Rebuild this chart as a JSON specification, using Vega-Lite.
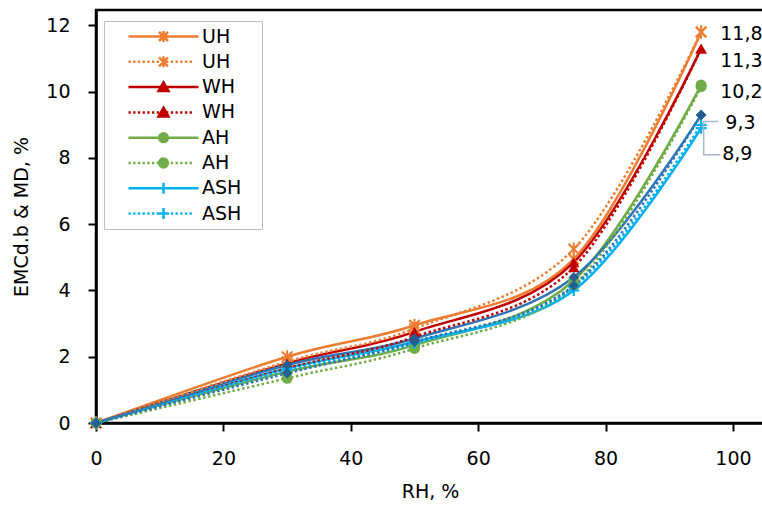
{
  "$schema": "https://vega.github.io/schema/vega-lite/v6.json",
  "width": 668,
  "height": 413,
  "autosize": {"type": "none"},
  "padding": {"left": 96, "top": 10, "right": 0, "bottom": 84},
  "background": "white",
  "datasets": {
    "emc": [
      {"series": "UH solid", "RH": 0, "v": 0}, {"series": "UH solid", "RH": 30, "v": 2.0}, {"series": "UH solid", "RH": 50, "v": 2.95}, {"series": "UH solid", "RH": 75, "v": 4.95}, {"series": "UH solid", "RH": 95, "v": 11.8},
      {"series": "UH dotted", "RH": 0, "v": 0}, {"series": "UH dotted", "RH": 30, "v": 1.85}, {"series": "UH dotted", "RH": 50, "v": 2.85}, {"series": "UH dotted", "RH": 75, "v": 5.25}, {"series": "UH dotted", "RH": 95, "v": 11.8},
      {"series": "WH solid", "RH": 0, "v": 0}, {"series": "WH solid", "RH": 30, "v": 1.8}, {"series": "WH solid", "RH": 50, "v": 2.75}, {"series": "WH solid", "RH": 75, "v": 4.85}, {"series": "WH solid", "RH": 95, "v": 11.3},
      {"series": "WH dotted", "RH": 0, "v": 0}, {"series": "WH dotted", "RH": 30, "v": 1.65}, {"series": "WH dotted", "RH": 50, "v": 2.6}, {"series": "WH dotted", "RH": 75, "v": 4.7}, {"series": "WH dotted", "RH": 95, "v": 11.3},
      {"series": "AH solid", "RH": 0, "v": 0}, {"series": "AH solid", "RH": 30, "v": 1.55}, {"series": "AH solid", "RH": 50, "v": 2.35}, {"series": "AH solid", "RH": 75, "v": 4.3}, {"series": "AH solid", "RH": 95, "v": 10.2},
      {"series": "AH dotted", "RH": 0, "v": 0}, {"series": "AH dotted", "RH": 30, "v": 1.35}, {"series": "AH dotted", "RH": 50, "v": 2.25}, {"series": "AH dotted", "RH": 75, "v": 4.15}, {"series": "AH dotted", "RH": 95, "v": 10.15},
      {"series": "ASH solid", "RH": 0, "v": 0}, {"series": "ASH solid", "RH": 30, "v": 1.65}, {"series": "ASH solid", "RH": 50, "v": 2.45}, {"series": "ASH solid", "RH": 75, "v": 4.0}, {"series": "ASH solid", "RH": 95, "v": 8.9},
      {"series": "ASH dotted", "RH": 0, "v": 0}, {"series": "ASH dotted", "RH": 30, "v": 1.6}, {"series": "ASH dotted", "RH": 50, "v": 2.4}, {"series": "ASH dotted", "RH": 75, "v": 4.1}, {"series": "ASH dotted", "RH": 95, "v": 9.0},
      {"series": "D solid", "RH": 0, "v": 0}, {"series": "D solid", "RH": 30, "v": 1.75}, {"series": "D solid", "RH": 50, "v": 2.55}, {"series": "D solid", "RH": 75, "v": 4.4}, {"series": "D solid", "RH": 95, "v": 9.3},
      {"series": "D dotted", "RH": 0, "v": 0}, {"series": "D dotted", "RH": 30, "v": 1.5}, {"series": "D dotted", "RH": 50, "v": 2.45}, {"series": "D dotted", "RH": 75, "v": 4.15}, {"series": "D dotted", "RH": 95, "v": 9.3}
    ],
    "labels": [
      {"label": "11,8", "x": 98.0, "y": 11.75},
      {"label": "11,3", "x": 98.0, "y": 10.93},
      {"label": "10,2", "x": 98.0, "y": 10.0},
      {"label": "9,3", "x": 98.8, "y": 9.06},
      {"label": "8,9", "x": 98.3, "y": 8.13}
    ],
    "leader": [
      {"o": 1, "x": 97.7, "y": 9.1},
      {"o": 2, "x": 95.4, "y": 9.1},
      {"o": 3, "x": 95.4, "y": 8.1},
      {"o": 4, "x": 98.0, "y": 8.1}
    ]
  },
  "layer": [
    {
      "data": {"name": "emc"},
      "transform": [{"filter": {"field": "series", "oneOf": ["UH solid", "WH solid", "AH solid", "ASH solid", "D solid"]}}],
      "mark": {"type": "line", "interpolate": "cardinal", "strokeWidth": 2.5},
      "encoding": {
        "x": {"field": "RH", "type": "quantitative", "scale": {"domain": [0, 104.87], "nice": false, "zero": false},
              "axis": {"values": [0, 20, 40, 60, 80, 100], "title": "RH, %", "labelPadding": 18, "titlePadding": 14, "labelFlush": false}},
        "y": {"field": "v", "type": "quantitative", "scale": {"domain": [0, 12.466], "nice": false},
              "axis": {"values": [0, 2, 4, 6, 8, 10, 12], "title": "EMCd.b & MD, %", "labelPadding": 18, "titlePadding": 14, "labelFlush": false}},
        "stroke": {"field": "series", "type": "nominal", "legend": null,
          "scale": {"domain": ["UH solid", "UH dotted", "WH solid", "WH dotted", "AH solid", "AH dotted", "ASH solid", "ASH dotted", "D solid", "D dotted"],
                    "range": ["#ED7D31", "#ED7D31", "#C00000", "#C00000", "#70AD47", "#70AD47", "#00B0F0", "#00B0F0", "#2E75B6", "#2E75B6"]}}
      }
    },
    {
      "data": {"name": "emc"},
      "transform": [{"filter": {"field": "series", "oneOf": ["UH dotted", "WH dotted", "AH dotted", "ASH dotted", "D dotted"]}}],
      "mark": {"type": "line", "interpolate": "cardinal", "strokeWidth": 2.5, "strokeDash": [2.5, 2.5]},
      "encoding": {
        "x": {"field": "RH", "type": "quantitative"},
        "y": {"field": "v", "type": "quantitative"},
        "stroke": {"field": "series", "type": "nominal", "legend": null}
      }
    },
    {
      "data": {"name": "emc"},
      "transform": [{"filter": {"field": "series", "oneOf": ["UH solid", "UH dotted"]}}],
      "mark": {"type": "point", "filled": false, "shape": "M-1,-1L1,1M-1,1L1,-1M0,-1.25L0,1.25", "size": 110, "strokeWidth": 2, "opacity": 1},
      "encoding": {
        "x": {"field": "RH", "type": "quantitative"},
        "y": {"field": "v", "type": "quantitative"},
        "stroke": {"field": "series", "type": "nominal", "legend": null}
      }
    },
    {
      "data": {"name": "emc"},
      "transform": [{"filter": {"field": "series", "oneOf": ["WH solid", "WH dotted"]}}],
      "mark": {"type": "point", "filled": true, "shape": "triangle-up", "size": 130, "opacity": 1},
      "encoding": {
        "x": {"field": "RH", "type": "quantitative"},
        "y": {"field": "v", "type": "quantitative"},
        "fill": {"field": "series", "type": "nominal", "legend": null,
          "scale": {"domain": ["UH solid", "UH dotted", "WH solid", "WH dotted", "AH solid", "AH dotted", "ASH solid", "ASH dotted", "D solid", "D dotted"],
                    "range": ["#ED7D31", "#ED7D31", "#C00000", "#C00000", "#70AD47", "#70AD47", "#00B0F0", "#00B0F0", "#2E75B6", "#2E75B6"]}}
      }
    },
    {
      "data": {"name": "emc"},
      "transform": [{"filter": {"field": "series", "oneOf": ["AH solid", "AH dotted"]}}],
      "mark": {"type": "point", "filled": true, "shape": "circle", "size": 121, "opacity": 1},
      "encoding": {
        "x": {"field": "RH", "type": "quantitative"},
        "y": {"field": "v", "type": "quantitative"},
        "fill": {"field": "series", "type": "nominal", "legend": null}
      }
    },
    {
      "data": {"name": "emc"},
      "transform": [{"filter": {"field": "series", "oneOf": ["ASH solid", "ASH dotted"]}}],
      "mark": {"type": "point", "filled": false, "shape": "M-1.1,0L1.1,0M0,-1.1L0,1.1", "size": 100, "strokeWidth": 2.2, "opacity": 1},
      "encoding": {
        "x": {"field": "RH", "type": "quantitative"},
        "y": {"field": "v", "type": "quantitative"},
        "stroke": {"field": "series", "type": "nominal", "legend": null}
      }
    },
    {
      "data": {"name": "emc"},
      "transform": [{"filter": {"field": "series", "oneOf": ["D solid", "D dotted"]}}],
      "mark": {"type": "point", "filled": true, "shape": "diamond", "size": 110, "color": "#255E91", "opacity": 1},
      "encoding": {
        "x": {"field": "RH", "type": "quantitative"},
        "y": {"field": "v", "type": "quantitative"}
      }
    },
    {
      "data": {"name": "leader"},
      "mark": {"type": "line", "color": "#A9B7CA", "strokeWidth": 1.5},
      "encoding": {
        "x": {"field": "x", "type": "quantitative"},
        "y": {"field": "y", "type": "quantitative"},
        "order": {"field": "o"}
      }
    },
    {
      "data": {"name": "labels"},
      "mark": {"type": "text", "align": "left", "baseline": "middle", "font": "DejaVu Sans", "fontSize": 19, "color": "#000"},
      "encoding": {
        "x": {"field": "x", "type": "quantitative"},
        "y": {"field": "y", "type": "quantitative"},
        "text": {"field": "label"}
      }
    },
    {
      "data": {"name": "emc"},
      "transform": [{"filter": "false"}],
      "mark": {"type": "point", "filled": true, "opacity": 1},
      "encoding": {
        "x": {"field": "RH", "type": "quantitative"},
        "y": {"field": "v", "type": "quantitative"},
        "color": {"field": "series", "type": "nominal",
          "scale": {"domain": ["UH solid", "UH dotted", "WH solid", "WH dotted", "AH solid", "AH dotted", "ASH solid", "ASH dotted"],
                    "range": ["#ED7D31", "#ED7D31", "#C00000", "#C00000", "#70AD47", "#70AD47", "#00B0F0", "#00B0F0"]},
          "legend": {
            "title": null, "orient": "none", "legendX": 8, "legendY": 11,
            "strokeColor": "#BFBFBF", "padding": 4, "symbolSize": 400, "symbolStrokeWidth": 2.5, "symbolOffset": 44, "symbolOpacity": 1,
            "labelFont": "DejaVu Sans", "labelFontSize": 19, "labelColor": "#000", "labelOffset": 27, "rowPadding": 3.3,
            "labelExpr": "split(datum.label, ' ')[0]",
            "encode": {"symbols": {"update": {"fill": {"scale": "color", "field": "value"}, "stroke": {"scale": "color", "field": "value"}, "opacity": {"value": 1}, "strokeWidth": {"value": 2.5}}}}
          }},
        "shape": {"field": "series", "type": "nominal",
          "scale": {"domain": ["UH solid", "UH dotted", "WH solid", "WH dotted", "AH solid", "AH dotted", "ASH solid", "ASH dotted"],
                    "range": [
                      "M8.9,0M-3.5,0L3.5,0M-0.45,-0.45L0.45,0.45M-0.45,0.45L0.45,-0.45M0,-0.55L0,0.55",
                      "M8.9,0M-3.5,0L-3.27,0M-3.03,0L-2.8,0M-2.56,0L-2.33,0M-2.09,0L-1.86,0M-1.62,0L-1.39,0M-1.15,0L-0.92,0M-0.68,0L-0.45,0M-0.21,0L0.02,0M0.26,0L0.49,0M0.73,0L0.96,0M1.2,0L1.43,0M1.67,0L1.9,0M2.14,0L2.37,0M2.61,0L2.84,0M-0.45,-0.45L0.45,0.45M-0.45,0.45L0.45,-0.45M0,-0.55L0,0.55",
                      "M8.9,0M-3.5,0L3.5,0M0,-0.47L0.5,0.4L-0.5,0.4Z",
                      "M8.9,0M-3.5,0L-3.27,0M-3.03,0L-2.8,0M-2.56,0L-2.33,0M-2.09,0L-1.86,0M-1.62,0L-1.39,0M-1.15,0L-0.92,0M-0.68,0L-0.45,0M-0.21,0L0.02,0M0.26,0L0.49,0M0.73,0L0.96,0M1.2,0L1.43,0M1.67,0L1.9,0M2.14,0L2.37,0M2.61,0L2.84,0M0,-0.47L0.5,0.4L-0.5,0.4Z",
                      "M8.9,0M-3.5,0L3.5,0M-0.44,0A0.44,0.44,0,1,0,0.44,0A0.44,0.44,0,1,0,-0.44,0Z",
                      "M8.9,0M-3.5,0L-3.27,0M-3.03,0L-2.8,0M-2.56,0L-2.33,0M-2.09,0L-1.86,0M-1.62,0L-1.39,0M-1.15,0L-0.92,0M-0.68,0L-0.45,0M-0.21,0L0.02,0M0.26,0L0.49,0M0.73,0L0.96,0M1.2,0L1.43,0M1.67,0L1.9,0M2.14,0L2.37,0M2.61,0L2.84,0M-0.44,0A0.44,0.44,0,1,0,0.44,0A0.44,0.44,0,1,0,-0.44,0Z",
                      "M8.9,0M-3.5,0L3.5,0M-0.55,0L0.55,0M0,-0.55L0,0.55",
                      "M8.9,0M-3.5,0L-3.27,0M-3.03,0L-2.8,0M-2.56,0L-2.33,0M-2.09,0L-1.86,0M-1.62,0L-1.39,0M-1.15,0L-0.92,0M-0.68,0L-0.45,0M-0.21,0L0.02,0M0.26,0L0.49,0M0.73,0L0.96,0M1.2,0L1.43,0M1.67,0L1.9,0M2.14,0L2.37,0M2.61,0L2.84,0M-0.55,0L0.55,0M0,-0.55L0,0.55"
                    ]},
          "legend": {
            "title": null, "orient": "none", "legendX": 8, "legendY": 11,
            "strokeColor": "#BFBFBF", "padding": 4, "symbolSize": 400, "symbolStrokeWidth": 2.5, "symbolOffset": 44, "symbolOpacity": 1,
            "labelFont": "DejaVu Sans", "labelFontSize": 19, "labelColor": "#000", "labelOffset": 27, "rowPadding": 3.3,
            "labelExpr": "split(datum.label, ' ')[0]",
            "encode": {"symbols": {"update": {"fill": {"scale": "color", "field": "value"}, "stroke": {"scale": "color", "field": "value"}, "opacity": {"value": 1}, "strokeWidth": {"value": 2.5}}}}
          }}
      }
    }
  ],
  "config": {
    "view": {"stroke": "#000", "strokeWidth": 2.5},
    "font": "DejaVu Sans",
    "axis": {
      "domainColor": "#000", "domainWidth": 2.5, "tickColor": "#000", "tickWidth": 2, "tickSize": 8,
      "labelFont": "DejaVu Sans", "labelFontSize": 19, "labelColor": "#000",
      "titleFont": "DejaVu Sans", "titleFontSize": 19, "titleFontWeight": "normal", "titleColor": "#000",
      "grid": false
    }
  }
}
